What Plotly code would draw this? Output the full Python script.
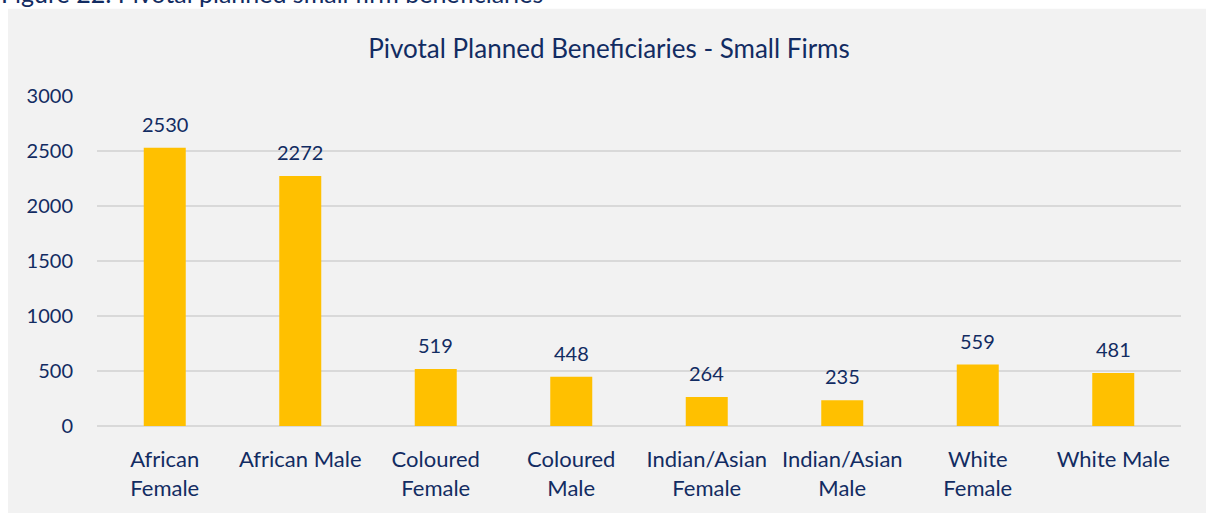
import plotly.graph_objects as go

categories = ["African<br>Female", "African Male", "Coloured<br>Female", "Coloured<br>Male",
              "Indian/Asian<br>Female", "Indian/Asian<br>Male", "White<br>Female", "White Male"]
values = [2530, 2272, 519, 448, 264, 235, 559, 481]
y_ticks = [0, 500, 1000, 1500, 2000, 2500, 3000]

NAVY = "#122c62"
FONT = "Lato"

fig = go.Figure()
fig.add_trace(go.Bar(x=categories, y=values, marker_color="#ffc000",
                     marker_line_width=0, hoverinfo="x+y"))

for c, v in zip(categories, values):
    fig.add_annotation(x=c, y=v, xref="x", yref="y", text=str(v), showarrow=False,
                       yanchor="bottom", yshift=10, font=dict(family=FONT, size=20, color=NAVY))

# figure caption (cut off at top, as in the source)
fig.add_annotation(x=-98/1084, y=1, xref="paper", yref="paper", xanchor="left", yanchor="bottom",
                   yshift=86, text="Figure 22: Pivotal planned small firm beneficiaries",
                   showarrow=False, font=dict(family=FONT, size=25, color=NAVY))

# white page strips around the grey chart area (top and left)
fig.add_shape(type="rect", xref="paper", yref="paper", x0=-120/1084, x1=1+40/1084,
              y0=1+88/333, y1=1+120/333, fillcolor="white", line_width=0, layer="below")
fig.add_shape(type="rect", xref="paper", yref="paper", x0=-120/1084, x1=-89/1084,
              y0=-120/333, y1=1+120/333, fillcolor="white", line_width=0, layer="below")

fig.update_layout(
    width=1206, height=513,
    margin=dict(l=97, r=25, t=96, b=84),
    paper_bgcolor="#f2f2f2", plot_bgcolor="rgba(0,0,0,0)",
    bargap=0.69,
    showlegend=False,
    title=dict(text="Pivotal Planned Beneficiaries - Small Firms", x=609/1206, xanchor="center",
               y=1 - 49/513, yanchor="middle", font=dict(family=FONT, size=26, color=NAVY)),
    font=dict(family=FONT, size=20, color=NAVY),
    xaxis=dict(showgrid=False, showline=False, ticks="", ticklabelstandoff=18,
               tickfont=dict(size=22, color=NAVY)),
    yaxis=dict(range=[0, 3000], tickvals=y_ticks, showgrid=True, gridcolor="#d9d9d9", gridwidth=1.5,
               zeroline=True, zerolinecolor="#d9d9d9", zerolinewidth=1.5, ticks="",
               ticklabelstandoff=23, tickfont=dict(size=20, color=NAVY)),
)

fig.write_html("out.html", config={"displayModeBar": False},
               post_script="document.body.style.margin='0';")
